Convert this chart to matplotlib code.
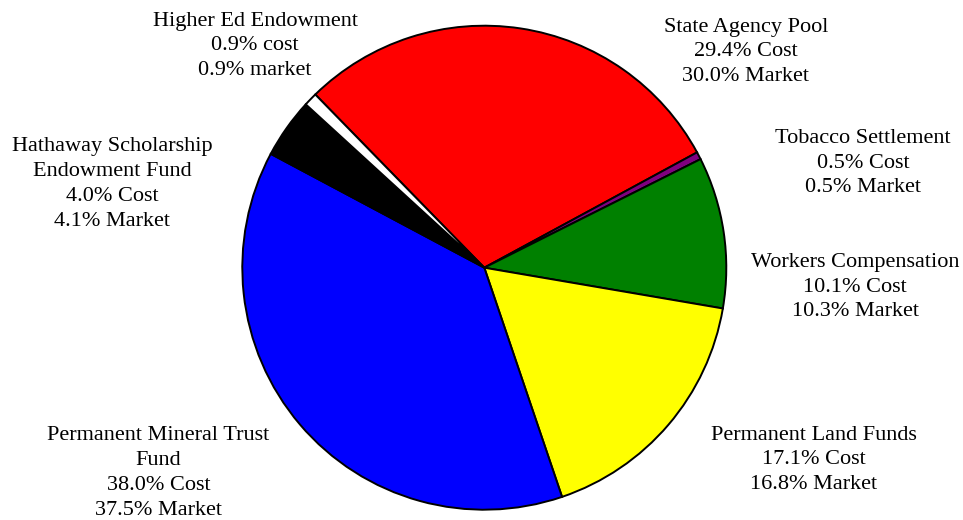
import matplotlib
matplotlib.use("Agg")
import matplotlib.pyplot as plt

categories = ["State Agency Pool", "Tobacco Settlement", "Workers Compensation",
              "Permanent Land Funds", "Permanent Mineral Trust Fund",
              "Hathaway Scholarship Endowment Fund", "Higher Ed Endowment"]
cost_pct = [29.4, 0.5, 10.1, 17.1, 38.0, 4.0, 0.9]
market_pct = [30.0, 0.5, 10.3, 16.8, 37.5, 4.1, 0.9]
colors = ["#ff0000", "#800080", "#008000", "#ffff00", "#0000ff", "#000000", "#ffffff"]
label_names = ["State Agency Pool", "Tobacco Settlement", "Workers Compensation",
               "Permanent Land Funds", "Permanent Mineral Trust\nFund",
               "Hathaway Scholarship\nEndowment Fund", "Higher Ed Endowment"]
cost_word = ["Cost", "Cost", "Cost", "Cost", "Cost", "Cost", "cost"]
market_word = ["Market", "Market", "Market", "Market", "Market", "Market", "market"]

W, H = 963, 520
fig = plt.figure(figsize=(W / 100, H / 100), dpi=100)
ax = fig.add_axes([0, 0, 1, 1])

cx, cy, r = 484.3, H - 267.7, 242
ax.pie(cost_pct, colors=colors, startangle=134.3, counterclock=False,
       center=(cx, cy), radius=r, frame=True,
       wedgeprops=dict(edgecolor="black", linewidth=1.4))
ax.set_xlim(0, W)
ax.set_ylim(0, H)
ax.set_aspect("equal")
ax.axis("off")

label_pos = [(746, 52), (863, 163), (855, 287), (814, 460), (158.5, 473), (112, 184), (255, 46)]
for name, c, m, cw, mw, (x, y) in zip(label_names, cost_pct, market_pct, cost_word, market_word, label_pos):
    txt = f"{name}\n{c:.1f}% {cw}\n{m:.1f}% {mw}"
    ax.text(x, H - y, txt, ha="center", va="center", multialignment="center",
            fontsize=16, family="Liberation Serif", linespacing=1.41)

fig.savefig("out.png", dpi=100)
